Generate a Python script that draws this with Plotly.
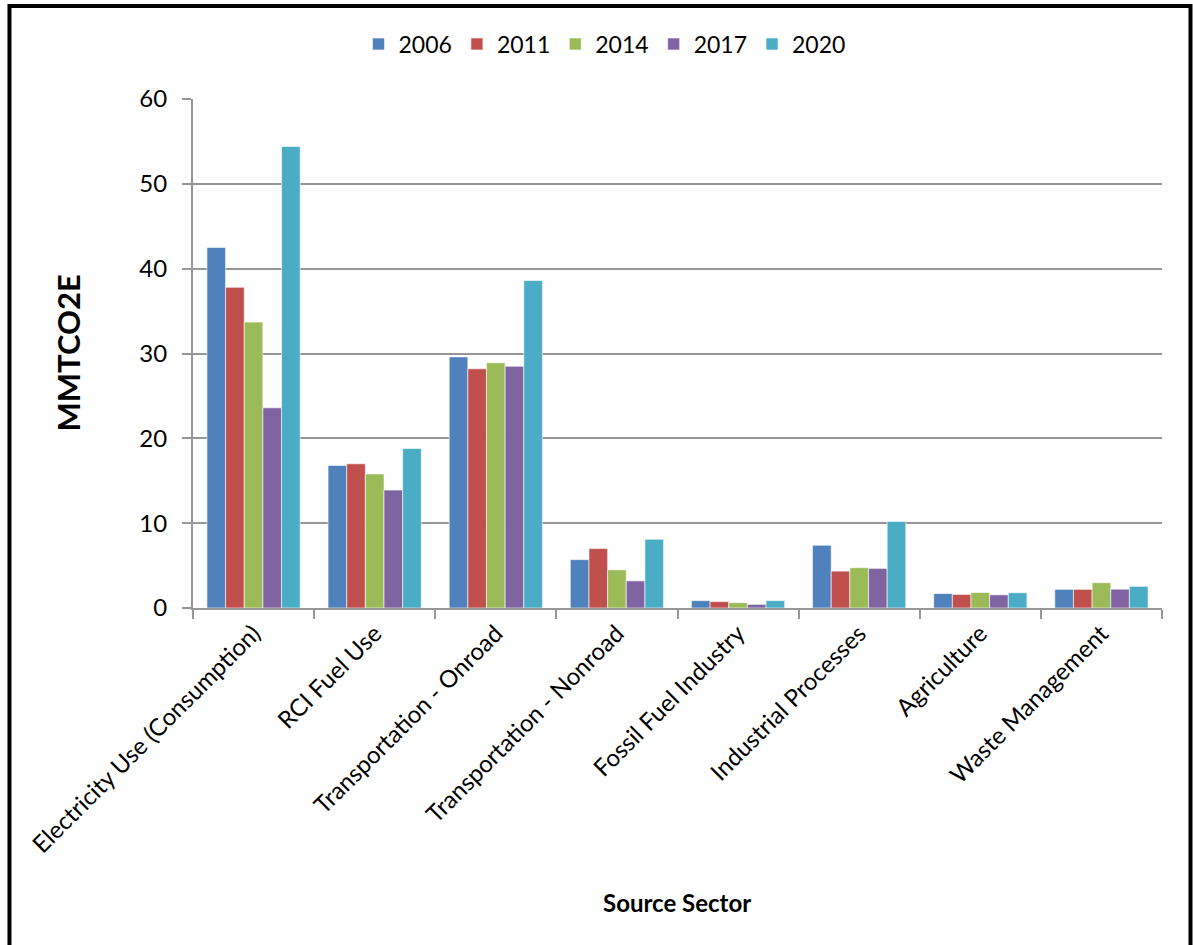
import plotly.graph_objects as go

categories = ["Electricity Use (Consumption)", "RCI Fuel Use", "Transportation - Onroad",
              "Transportation - Nonroad", "Fossil Fuel Industry", "Industrial Processes",
              "Agriculture", "Waste Management"]
years = ["2006", "2011", "2014", "2017", "2020"]
v2006 = [42.5, 16.8, 29.6, 5.7, 0.87, 7.4, 1.7, 2.2]
v2011 = [37.8, 17.0, 28.2, 7.0, 0.75, 4.35, 1.6, 2.2]
v2014 = [33.7, 15.8, 28.9, 4.5, 0.63, 4.75, 1.83, 2.98]
v2017 = [23.6, 13.9, 28.5, 3.2, 0.43, 4.67, 1.55, 2.22]
v2020 = [54.4, 18.8, 38.6, 8.1, 0.87, 10.2, 1.8, 2.55]
series = [v2006, v2011, v2014, v2017, v2020]
colors = ["#4F81BD", "#C0504D", "#9BBB59", "#8064A2", "#4BACC6"]
yticks = [0, 10, 20, 30, 40, 50, 60]

FONT = "Lato"

fig = go.Figure()
for name, vals, col in zip(years, series, colors):
    fig.add_trace(go.Bar(
        x=categories, y=vals, name=name,
        marker=dict(color=col, line=dict(color="rgba(255,255,255,0.6)", width=1)),
    ))

fig.update_layout(
    width=1193, height=945,
    margin=dict(l=193, r=31, t=99, b=337, autoexpand=False),
    paper_bgcolor="white", plot_bgcolor="white",
    barmode="group", bargap=0.23, bargroupgap=0,
    font=dict(family=FONT, color="black"),
    showlegend=True,
    legend=dict(orientation="h", x=0.4247, xanchor="center", y=1.108, yanchor="middle",
                font=dict(size=23, family=FONT, color="black"),
                traceorder="normal", itemclick=False),
    xaxis=dict(
        type="category", showline=True, linecolor="#969696", linewidth=2,
        ticks="outside", tickson="boundaries", ticklen=9, tickwidth=2, tickcolor="#969696",
        tickangle=-45, tickfont=dict(size=24, family=FONT, color="black"),
        showgrid=False, zeroline=False,
    ),
    yaxis=dict(
        range=[0, 60], tickvals=yticks, ticktext=[str(t) for t in yticks],
        showline=True, linecolor="#969696", linewidth=2,
        ticks="outside", ticklen=9, tickwidth=2, tickcolor="#969696",
        ticklabelstandoff=10,
        tickfont=dict(size=24, family=FONT, color="black"),
        showgrid=True, gridcolor="#969696", gridwidth=2, zeroline=False,
    ),
    annotations=[
        dict(text="<b>MMTCO2E</b>", xref="paper", yref="paper", x=-0.130, y=0.5,
             textangle=-90, showarrow=False, font=dict(size=31, family=FONT, color="black"),
             xanchor="center", yanchor="middle"),
        dict(text="<b>Source Sector</b>", xref="paper", yref="paper", x=0.4995, y=-0.579,
             showarrow=False, font=dict(size=24, family=FONT, color="black"),
             xanchor="center", yanchor="middle"),
    ],
    shapes=[
        dict(type="rect", xref="paper", yref="paper", x0=-0.1894, x1=1.0294,
             y0=-0.70, y1=1.1829, line=dict(color="black", width=4), layer="below"),
    ],
)

fig.write_html("out.html", config={"displayModeBar": False},
               post_script="document.body.style.margin='0';document.body.style.overflow='hidden';")
